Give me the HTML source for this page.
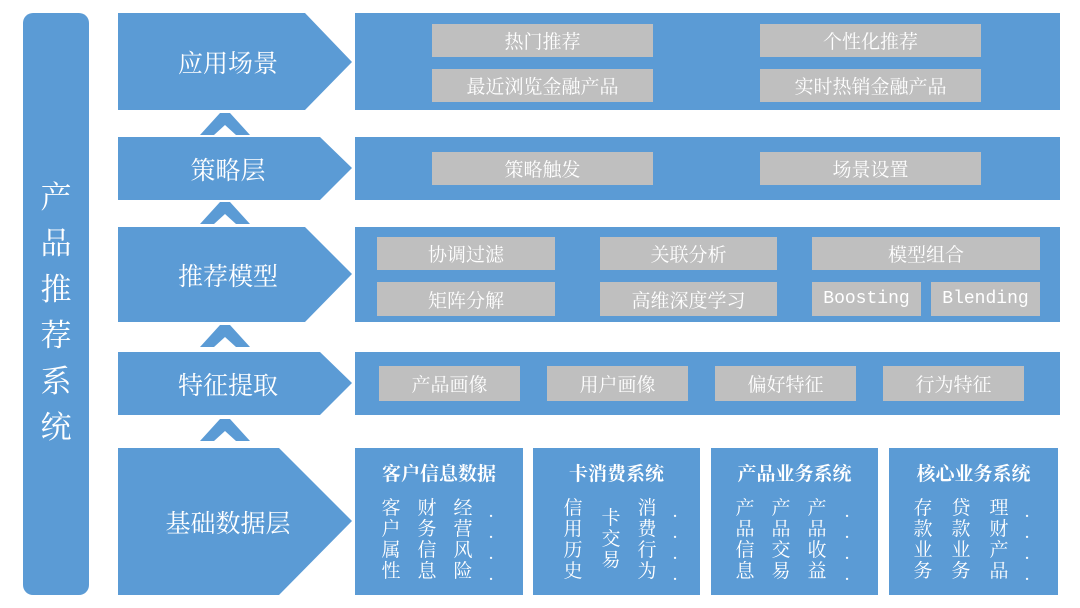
<!DOCTYPE html>
<html><head><meta charset="utf-8"><style>
body{margin:0;width:1080px;height:608px;background:#fff;overflow:hidden;font-family:"Liberation Serif","Noto Serif CJK SC",serif;}
.a{position:absolute}
.b{background:#5b9bd5;position:absolute}
.g{position:absolute;background:#bfbfbf;color:#fff;font-size:19px;display:flex;align-items:center;justify-content:center;}
.t{position:absolute;color:#fff;font-size:25px;display:flex;align-items:center;justify-content:center;}
.sys{position:absolute;background:#5b9bd5;color:#fff;}
.sys h{display:block;text-align:center;font-weight:bold;font-size:19px;margin-top:11px;}
.cols{position:absolute;top:50px;left:0;right:0;font-size:19px;line-height:21px;}
.c{position:absolute;width:20px;text-align:center;}
</style></head><body>
<div class="b" style="left:23px;top:13px;width:66px;height:582px;border-radius:10px"></div>
<div class="a" style="left:23px;top:175px;width:66px;text-align:center;color:#fff;font-size:31px;line-height:46px">产<br>品<br>推<br>荐<br>系<br>统</div>
<svg class="a" style="left:0;top:0" width="1080" height="608">
<g fill="#5b9bd5">
<polygon points="118,13 305,13 352,62 305,110 118,110"/>
<polygon points="118,137 320,137 352,168 320,200 118,200"/>
<polygon points="118,227 305,227 352,274 305,322 118,322"/>
<polygon points="118,352 320,352 352,383 320,415 118,415"/>
<polygon points="118,448 279,448 352,521 279,595 118,595"/>
<g id="cr"><polygon points="200,135 220,113 230,113 250,135 236,135 225,125 214,135"/></g>
<use href="#cr" y="89"/>
<use href="#cr" y="212"/>
<use href="#cr" y="306"/>
</g>
</svg>
<div class="t" style="left:118px;top:13px;width:220px;height:97px">应用场景</div>
<div class="t" style="left:118px;top:137px;width:220px;height:63px">策略层</div>
<div class="t" style="left:118px;top:227px;width:220px;height:95px">推荐模型</div>
<div class="t" style="left:118px;top:352px;width:220px;height:63px">特征提取</div>
<div class="t" style="left:118px;top:448px;width:220px;height:147px">基础数据层</div>

<div class="b" style="left:355px;top:13px;width:705px;height:97px"></div>
<div class="b" style="left:355px;top:137px;width:705px;height:63px"></div>
<div class="b" style="left:355px;top:227px;width:705px;height:95px"></div>
<div class="b" style="left:355px;top:352px;width:705px;height:63px"></div>

<div class="g" style="left:432px;top:24px;width:221px;height:33px">热门推荐</div>
<div class="g" style="left:760px;top:24px;width:221px;height:33px">个性化推荐</div>
<div class="g" style="left:432px;top:69px;width:221px;height:33px">最近浏览金融产品</div>
<div class="g" style="left:760px;top:69px;width:221px;height:33px">实时热销金融产品</div>
<div class="g" style="left:432px;top:152px;width:221px;height:33px">策略触发</div>
<div class="g" style="left:760px;top:152px;width:221px;height:33px">场景设置</div>
<div class="g" style="left:377px;top:237px;width:178px;height:33px">协调过滤</div>
<div class="g" style="left:600px;top:237px;width:177px;height:33px">关联分析</div>
<div class="g" style="left:812px;top:237px;width:228px;height:33px">模型组合</div>
<div class="g" style="left:377px;top:282px;width:178px;height:34px">矩阵分解</div>
<div class="g" style="left:600px;top:282px;width:177px;height:34px">高维深度学习</div>
<div class="g" style="left:812px;top:282px;width:109px;height:34px;font-family:'Liberation Mono',monospace;font-size:18px">Boosting</div>
<div class="g" style="left:931px;top:282px;width:109px;height:34px;font-family:'Liberation Mono',monospace;font-size:18px">Blending</div>
<div class="g" style="left:379px;top:366px;width:141px;height:35px">产品画像</div>
<div class="g" style="left:547px;top:366px;width:141px;height:35px">用户画像</div>
<div class="g" style="left:715px;top:366px;width:141px;height:35px">偏好特征</div>
<div class="g" style="left:883px;top:366px;width:141px;height:35px">行为特征</div>

<div class="sys" style="left:355px;top:448px;width:168px;height:147px"><h>客户信息数据</h><div class="cols">
<div class="c" style="left:26px">客<br>户<br>属<br>性</div><div class="c" style="left:62px">财<br>务<br>信<br>息</div><div class="c" style="left:98px">经<br>营<br>风<br>险</div><div class="c" style="left:126px;top:8px">·<br>·<br>·<br>·</div></div></div>
<div class="sys" style="left:533px;top:448px;width:167px;height:147px"><h>卡消费系统</h><div class="cols">
<div class="c" style="left:30px">信<br>用<br>历<br>史</div><div class="c" style="left:68px;top:10px">卡<br>交<br>易</div><div class="c" style="left:104px">消<br>费<br>行<br>为</div><div class="c" style="left:132px;top:8px">·<br>·<br>·<br>·</div></div></div>
<div class="sys" style="left:711px;top:448px;width:167px;height:147px"><h>产品业务系统</h><div class="cols">
<div class="c" style="left:24px">产<br>品<br>信<br>息</div><div class="c" style="left:60px">产<br>品<br>交<br>易</div><div class="c" style="left:96px">产<br>品<br>收<br>益</div><div class="c" style="left:126px;top:8px">·<br>·<br>·<br>·</div></div></div>
<div class="sys" style="left:889px;top:448px;width:169px;height:147px"><h>核心业务系统</h><div class="cols">
<div class="c" style="left:24px">存<br>款<br>业<br>务</div><div class="c" style="left:62px">贷<br>款<br>业<br>务</div><div class="c" style="left:100px">理<br>财<br>产<br>品</div><div class="c" style="left:128px;top:8px">·<br>·<br>·<br>·</div></div></div>
</body></html>
